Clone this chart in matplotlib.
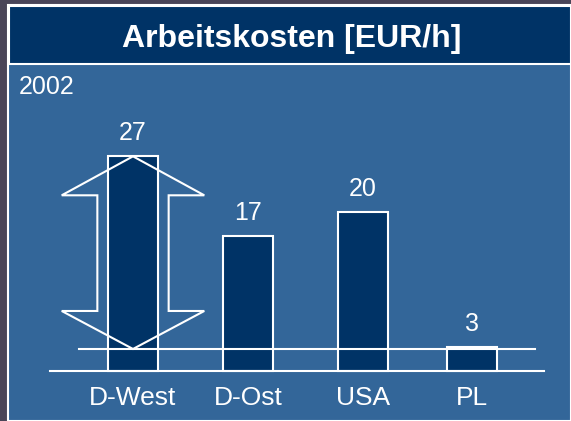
import matplotlib.pyplot as plt
from matplotlib.patches import Rectangle, Polygon

categories = ["D-West", "D-Ost", "USA", "PL"]
costs = [27, 17, 20, 3]
year_label = "2002"
title = "Arbeitskosten [EUR/h]"

positions = [0, 1, 2, 2.95]
W, H = 571, 421

navy = "#003366"
panel = "#336699"
frame = "#4a4558"

plt.rcParams['font.family'] = ['Liberation Sans', 'DejaVu Sans']

fig = plt.figure(figsize=(W / 100, H / 100), dpi=100)
fig.patch.set_facecolor(frame)

# panel and title bar (pixel coordinates converted to figure fractions)
def px(x, y):
    return x / W, 1 - y / H

fig.patches.append(Rectangle(px(8, H), (W - 8) / W, (H - 5) / H,
                             transform=fig.transFigure, facecolor=panel,
                             edgecolor="white", linewidth=1.5, zorder=0))
fig.patches.append(Rectangle(px(9, 64), (W - 9) / W, 58 / H,
                             transform=fig.transFigure, facecolor=navy,
                             edgecolor="white", linewidth=1.5, zorder=1))
fig.text(292 / W, 1 - 39 / H, title, color="white", fontsize=23,
         fontweight="bold", ha="center", va="center")
fig.text(19 / W, 1 - 87 / H, year_label, color="white", fontsize=18,
         ha="left", va="center")

ax = fig.add_axes([8 / W, 0, (W - 8) / W, (H - 66) / H])
ax.set_zorder(5)
ax.set_facecolor("none")
sx = 115.0
sy = 7.95
ax.set_xlim((8 - 133) / sx, (W - 133) / sx)
ax.set_ylim(-(H - 371) / sy, (371 - 66) / sy)
ax.axis("off")

bars = ax.bar(positions, costs, width=50 / sx, color=navy,
              edgecolor="white", linewidth=1.5, zorder=3)

for x, v, name in zip(positions, costs, categories):
    ax.text(x, v + 2.9, str(v), color="white", fontsize=18,
            ha="center", va="center", zorder=5)
    ax.text(x, -3.4, name, color="white", fontsize=19,
            ha="center", va="center", zorder=5)

# reference lines
ax.plot([-0.72, 3.57], [0, 0], color="white", lw=1.5, zorder=4)
lo = 2.77
ax.plot([-0.47, 3.50], [lo, lo], color="white", lw=1.5, zorder=4)

# double-headed outline arrow around the first bar
cx = positions[0]
top = costs[0]
hw, sw = 0.62, 0.31
hb_top, hb_bot = 22.1, 7.55
arrow = [(cx, top), (cx + hw, hb_top), (cx + sw, hb_top), (cx + sw, hb_bot),
         (cx + hw, hb_bot), (cx, lo), (cx - hw, hb_bot), (cx - sw, hb_bot),
         (cx - sw, hb_top), (cx - hw, hb_top)]
ax.add_patch(Polygon(arrow, closed=True, fill=False, edgecolor="white",
                     linewidth=1.5, zorder=4))

fig.savefig("out.png", dpi=100, facecolor=fig.get_facecolor())
